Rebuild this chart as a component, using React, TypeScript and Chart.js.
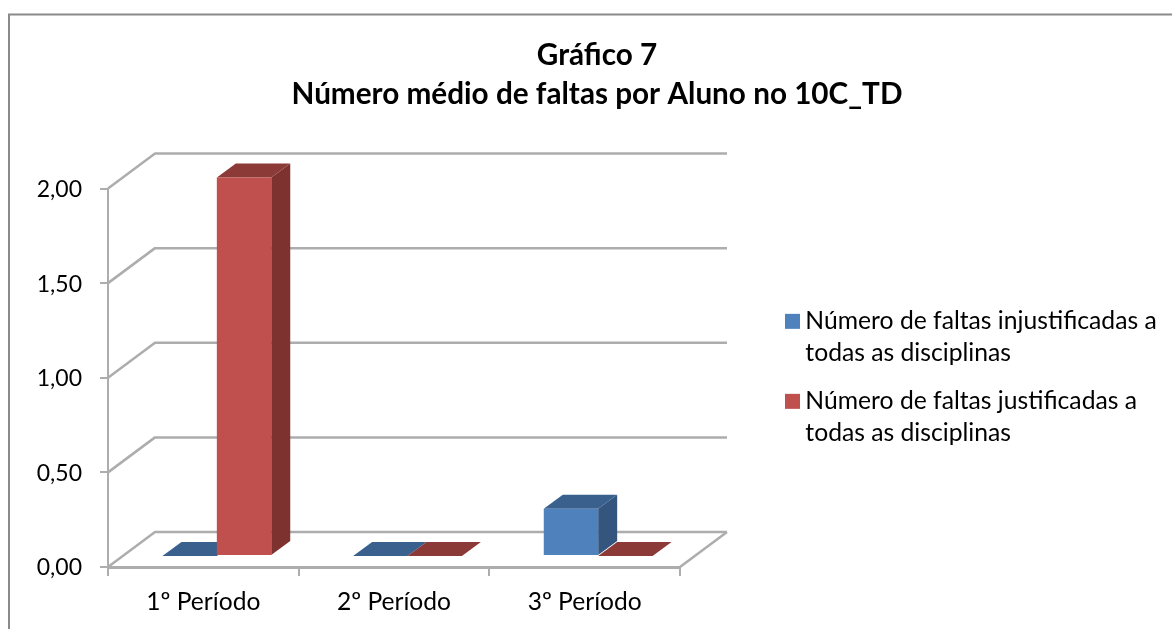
import React, { useEffect, useRef } from "react";
import { Chart, registerables } from "chart.js";

Chart.register(...registerables);

const titleLines = ["Gráfico 7", "Número médio de faltas por Aluno no 10C_TD"];
const categories = ["1º Período", "2º Período", "3º Período"];
const unjustifiedLabel = ["Número de faltas injustificadas a", "todas as disciplinas"];
const justifiedLabel = ["Número de faltas justificadas a", "todas as disciplinas"];
const unjustified = [0, 0, 0.25];
const justified = [2, 0, 0];

const FONT = "Lato";
const WALL = { dx: 47, dy: -35 };
const BAR_SHIFT = { dx: 13.5, dy: -11 };
const BAR_DEPTH = { dx: 19, dy: -14 };
const GRID = "#ADADAD";
const FRAME = "#8A8A8A";
const palettes = [
  { front: "#4F81BD", side: "#34567E", top: "#3A608E" },
  { front: "#C0504D", side: "#7D3230", top: "#8C3A38" },
];

const poly = (ctx: CanvasRenderingContext2D, pts: number[][], fill: string) => {
  ctx.beginPath();
  pts.forEach(([x, y], i) => (i ? ctx.lineTo(x, y) : ctx.moveTo(x, y)));
  ctx.closePath();
  ctx.fillStyle = fill;
  ctx.fill();
};

const pseudo3d = {
  id: "pseudo3d",
  beforeDraw(chart: any) {
    const { ctx } = chart;
    ctx.save();
    ctx.strokeStyle = FRAME;
    ctx.lineWidth = 2;
    ctx.beginPath();
    ctx.moveTo(9, chart.height);
    ctx.lineTo(9, 14.5);
    ctx.lineTo(chart.width, 14.5);
    ctx.stroke();
    ctx.restore();
  },
  afterLayout(chart: any) {
    const lg = chart.legend;
    lg.left = 776;
    lg.right = 1172;
    lg.top = 293;
    lg.bottom = 629;
    chart.titleBlock.left = 0;
    chart.titleBlock.right = 1194;
  },
  beforeDatasetsDraw(chart: any) {
    const { ctx, chartArea, scales } = chart;
    const { left, right } = chartArea;
    ctx.save();
    ctx.strokeStyle = GRID;
    ctx.lineWidth = 2.5;
    ctx.lineJoin = "round";
    scales.y.ticks.forEach((t: any) => {
      const y = scales.y.getPixelForValue(t.value);
      ctx.beginPath();
      ctx.moveTo(left, y);
      ctx.lineTo(left + WALL.dx, y + WALL.dy);
      ctx.lineTo(right + WALL.dx, y + WALL.dy);
      ctx.stroke();
    });
    const y0 = scales.y.getPixelForValue(0);
    ctx.beginPath();
    ctx.moveTo(right, y0);
    ctx.lineTo(right + WALL.dx, y0 + WALL.dy);
    ctx.stroke();
    ctx.restore();

    chart.data.datasets.forEach((_: any, di: number) => {
      const pal = palettes[di];
      chart.getDatasetMeta(di).data.forEach((el: any) => {
        const l = el.x - el.width / 2 + BAR_SHIFT.dx;
        const r = el.x + el.width / 2 + BAR_SHIFT.dx;
        const t = el.y + BAR_SHIFT.dy;
        const b = el.base + BAR_SHIFT.dy;
        poly(ctx, [[r, t], [r + BAR_DEPTH.dx, t + BAR_DEPTH.dy], [r + BAR_DEPTH.dx, b + BAR_DEPTH.dy], [r, b]], pal.side);
        poly(ctx, [[l, t], [l + BAR_DEPTH.dx, t + BAR_DEPTH.dy], [r + BAR_DEPTH.dx, t + BAR_DEPTH.dy], [r, t]], pal.top);
      });
    });
    ctx.save();
    ctx.translate(BAR_SHIFT.dx, BAR_SHIFT.dy);
  },
  afterDatasetsDraw(chart: any) {
    chart.ctx.restore();
  },
};

export default function App() {
  const ref = useRef<HTMLCanvasElement>(null);
  useEffect(() => {
    document.body.style.margin = "0";
    const chart = new Chart(ref.current!, {
      type: "bar",
      plugins: [pseudo3d],
      data: {
        labels: categories,
        datasets: [
          { label: unjustifiedLabel as any, data: unjustified, backgroundColor: palettes[0].front, clip: false as any },
          { label: justifiedLabel as any, data: justified, backgroundColor: palettes[1].front, clip: false as any },
        ],
      },
      options: {
        responsive: false,
        animation: false,
        layout: { padding: { left: 0, top: 0, right: 492, bottom: 15 } },
        datasets: { bar: { categoryPercentage: 109 / 191, barPercentage: 1 } },
        plugins: {
          tooltip: { enabled: false },
          title: {
            display: true,
            text: titleLines,
            color: "#000000",
            font: { family: FONT, size: 29.7, weight: "bold", lineHeight: 39 / 29.7 },
            padding: { top: 35.5, bottom: 75 },
          },
          legend: {
            display: true,
            position: "chartArea",
            align: "start",
            labels: {
              color: "#000000",
              font: { family: FONT, size: 24.7, lineHeight: 32 / 24.7 },
              usePointStyle: true,
              pointStyle: "rect",
              boxWidth: 1,
              boxHeight: 15,
              padding: 16,
            },
          },
        },
        scales: {
          x: {
            afterFit: (s: any) => { s.height = 47; },
            grid: { drawOnChartArea: false, color: GRID, lineWidth: 2, tickLength: 9, tickColor: GRID },
            border: { color: GRID, width: 3 },
            ticks: { color: "#000000", font: { family: FONT, size: 24.6 }, padding: 11 },
          },
          y: {
            min: 0,
            max: 2,
            afterFit: (s: any) => { s.width = 108; },
            grid: { drawOnChartArea: false, color: GRID, lineWidth: 2, tickLength: 8, tickColor: GRID },
            border: { color: GRID, width: 2 },
            ticks: {
              stepSize: 0.5,
              color: "#000000",
              font: { family: FONT, size: 23 },
              padding: 18,
              labelOffset: 1,
              callback: (v: any) => Number(v).toFixed(2).replace(".", ","),
            },
          },
        },
      },
    } as any);
    return () => chart.destroy();
  }, []);
  return (
    <div style={{ position: "absolute", left: 0, top: 0, width: 1172, height: 629, background: "#fff" }}>
      <canvas ref={ref} width={1172} height={629} style={{ display: "block" }} />
    </div>
  );
}
